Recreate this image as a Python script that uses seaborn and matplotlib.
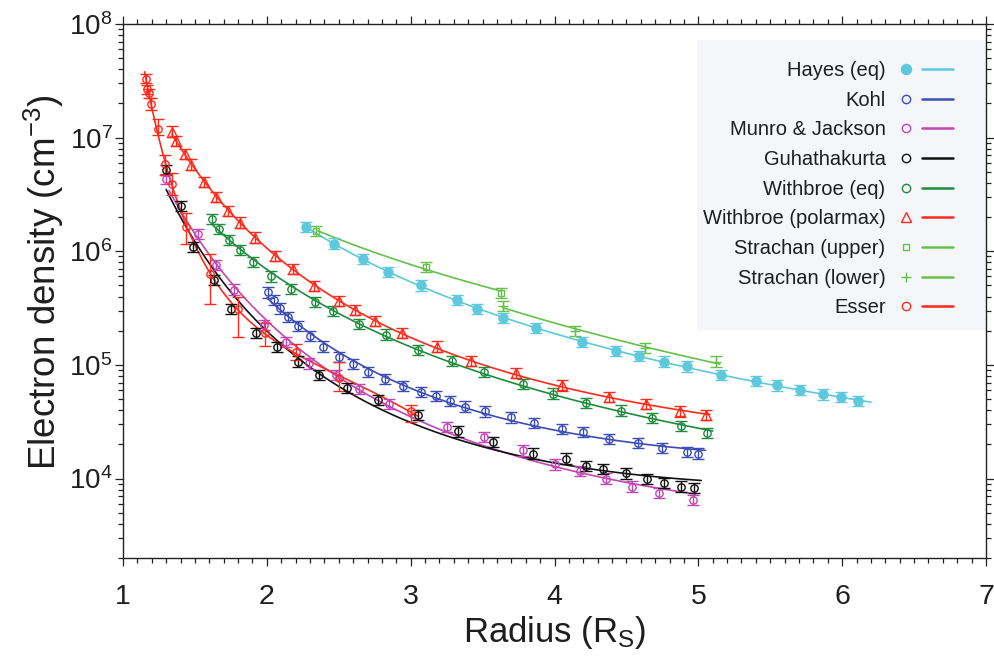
import numpy as np
import pandas as pd
import matplotlib
matplotlib.use("Agg")
import matplotlib.pyplot as plt
import seaborn as sns
from matplotlib.lines import Line2D
from matplotlib.patches import Rectangle
from matplotlib.legend_handler import HandlerTuple
from matplotlib.ticker import MultipleLocator, LogLocator, NullFormatter

# ---------------- data ----------------
hayes_r = [2.27, 2.47, 2.67, 2.84, 3.07, 3.32, 3.46, 3.64, 3.87, 4.19, 4.43, 4.59, 4.76, 4.92, 5.16, 5.40, 5.55, 5.71, 5.87, 5.99, 6.11]
hayes_n = [1.63e6, 1.17e6, 8.5e5, 6.6e5, 5.0e5, 3.7e5, 3.1e5, 2.6e5, 2.1e5, 1.6e5, 1.33e5, 1.19e5, 1.07e5, 9.7e4, 8.1e4, 7.2e4, 6.6e4, 6.0e4, 5.5e4, 5.2e4, 4.8e4]

kohl_r = [2.01, 2.05, 2.09, 2.145, 2.22, 2.30, 2.39, 2.50, 2.60, 2.70, 2.82, 2.95, 3.07, 3.175, 3.27, 3.38, 3.52, 3.70, 3.86, 4.05, 4.20, 4.38, 4.58, 4.75, 4.92, 5.00]
kohl_n = [4.34e5, 3.72e5, 3.14e5, 2.65e5, 2.21e5, 1.79e5, 1.45e5, 1.17e5, 1.02e5, 8.7e4, 7.5e4, 6.5e4, 5.8e4, 5.3e4, 4.8e4, 4.3e4, 3.9e4, 3.45e4, 3.1e4, 2.75e4, 2.57e4, 2.24e4, 2.06e4, 1.86e4, 1.71e4, 1.66e4]

munro_r = [1.30, 1.52, 1.645, 1.77, 1.98, 2.13, 2.29, 2.48, 2.64, 2.85, 3.25, 3.51, 3.78, 4.00, 4.18, 4.36, 4.54, 4.73, 4.96]
munro_n = [4.3e6, 1.41e6, 7.6e5, 4.6e5, 2.26e5, 1.58e5, 1.03e5, 8.2e4, 6.1e4, 4.5e4, 2.84e4, 2.32e4, 1.77e4, 1.33e4, 1.17e4, 1.0e4, 8.5e3, 7.5e3, 6.5e3]

guha_r = [1.30, 1.40, 1.49, 1.63, 1.75, 1.925, 2.07, 2.215, 2.365, 2.556, 2.77, 3.05, 3.33, 3.57, 3.85, 4.08, 4.22, 4.34, 4.50, 4.64, 4.76, 4.88, 4.97]
guha_n = [5.2e6, 2.5e6, 1.09e6, 5.6e5, 3.1e5, 1.91e5, 1.43e5, 1.07e5, 8.2e4, 6.3e4, 4.9e4, 3.64e4, 2.6e4, 2.1e4, 1.66e4, 1.5e4, 1.28e4, 1.21e4, 1.11e4, 9.9e3, 9.2e3, 8.5e3, 8.3e3]

wbeq_r = [1.62, 1.665, 1.735, 1.81, 1.905, 2.03, 2.17, 2.335, 2.46, 2.64, 2.83, 3.05, 3.29, 3.51, 3.78, 3.99, 4.22, 4.46, 4.68, 4.88, 5.06]
wbeq_n = [1.91e6, 1.58e6, 1.26e6, 1.03e6, 8.1e5, 6.0e5, 4.64e5, 3.6e5, 2.98e5, 2.29e5, 1.85e5, 1.36e5, 1.09e5, 8.7e4, 6.8e4, 5.6e4, 4.6e4, 3.97e4, 3.4e4, 2.9e4, 2.5e4]

wbpm_r = [1.34, 1.37, 1.43, 1.47, 1.56, 1.65, 1.73, 1.81, 1.92, 2.06, 2.18, 2.33, 2.50, 2.61, 2.75, 2.94, 3.18, 3.42, 3.73, 4.05, 4.38, 4.635, 4.87, 5.05]
wbpm_n = [1.13e7, 9.4e6, 7.2e6, 5.8e6, 4.1e6, 3.0e6, 2.26e6, 1.79e6, 1.32e6, 9.1e5, 6.95e5, 4.97e5, 3.66e5, 3.03e5, 2.45e5, 1.9e5, 1.45e5, 1.09e5, 8.5e4, 6.6e4, 5.2e4, 4.5e4, 3.9e4, 3.6e4]

strup_r = [2.34, 3.11, 3.63]
strup_n = [1.51e6, 7.3e5, 4.3e5]

strlo_r = [3.64, 4.14, 4.63, 5.12]
strlo_n = [3.3e5, 2.0e5, 1.41e5, 1.07e5]

esser_r = [1.16, 1.17, 1.18, 1.195, 1.24, 1.29, 1.34, 1.44, 1.605, 1.80, 1.99, 2.20, 2.50, 3.00]
esser_n = [3.3e7, 2.67e7, 2.46e7, 1.98e7, 1.2e7, 5.9e6, 3.9e6, 1.65e6, 6.3e5, 3.1e5, 1.9e5, 1.29e5, 7.7e4, 3.9e4]
esser_err_up = [0.04, 0.04, 0.04, 0.05, 0.085, 0.08, 0.10, 0.12, 0.175, 0.11, 0.094, 0.07, 0.14, 0.06]   # dex
esser_err_dn = [0.04, 0.04, 0.04, 0.05, 0.06, 0.10, 0.10, 0.155, 0.26, 0.25, 0.11, 0.07, 0.12, 0.09]   # dex

labels = ["Hayes (eq)", "Kohl", "Munro & Jackson", "Guhathakurta", "Withbroe (eq)",
          "Withbroe (polarmax)", "Strachan (upper)", "Strachan (lower)", "Esser"]
curve_ranges = [(2.27, 6.2), (2.0, 5.05), (1.32, 4.98), (1.30, 5.02), (1.62, 5.1),
                (1.34, 5.08), (2.35, 3.63), (3.64, 5.15), (1.15, 3.05)]
common_err = 0.045  # dex, typical error bar half-size

# ---------------- styling ----------------
sns.set_theme(style="white")
plt.rcParams["font.family"] = ["Liberation Sans", "DejaVu Sans"]
plt.rcParams["mathtext.fontset"] = "custom"
plt.rcParams["mathtext.rm"] = "Liberation Sans"
plt.rcParams["mathtext.it"] = "Liberation Sans:italic"
plt.rcParams["mathtext.bf"] = "Liberation Sans:bold"

C_HAYES = "#5ec8dc"
C_KOHL = "#3b4db5"
C_MUNRO = "#c245b4"
C_GUHA = "#111111"
C_WBEQ = "#1e8b3d"
C_RED = "#ff2a1c"
C_STR = "#66c04a"
TXT = "#1e1e1e"

series = [
    dict(r=hayes_r, n=hayes_n, c=C_HAYES, m="o", fill=True, ms=6.5, deg=2),
    dict(r=kohl_r, n=kohl_n, c=C_KOHL, m="o", fill=False, ms=5.3, deg=2),
    dict(r=munro_r, n=munro_n, c=C_MUNRO, m="o", fill=False, ms=5.3, deg=2),
    dict(r=guha_r, n=guha_n, c=C_GUHA, m="o", fill=False, ms=5.3, deg=2),
    dict(r=wbeq_r, n=wbeq_n, c=C_WBEQ, m="o", fill=False, ms=5.3, deg=2),
    dict(r=wbpm_r, n=wbpm_n, c=C_RED, m="^", fill=False, ms=6.5, deg=2),
    dict(r=strup_r, n=strup_n, c=C_STR, m="s", fill=False, ms=4.3, deg=1),
    dict(r=strlo_r, n=strlo_n, c=C_STR, m="+", fill=False, ms=7, deg=1),
    dict(r=esser_r, n=esser_n, c=C_RED, m="o", fill=False, ms=5.3, deg=3),
]

W, H = 994, 656
fig = plt.figure(figsize=(W / 100, H / 100), dpi=100)
ax = fig.add_axes([123 / W, 1 - 558 / H, (986 - 123) / W, (558 - 24) / H])
ax.set_yscale("log")

handles = []
for i, s in enumerate(series):
    r = np.asarray(s["r"], float)
    n = np.asarray(s["n"], float)
    if i == 8:
        up = np.asarray(esser_err_up)
        dn = np.asarray(esser_err_dn)
    else:
        up = np.full(len(r), common_err)
        dn = np.full(len(r), common_err)
    yerr = [n - n * 10 ** (-dn), n * 10 ** up - n]
    # fitted curve (log-log polynomial through the read points)
    coef = np.polyfit(np.log10(r), np.log10(n), s["deg"])
    lo, hi = curve_ranges[i]
    rg = np.linspace(lo, hi, 300)
    ng = 10 ** np.polyval(coef, np.log10(rg))
    sns.lineplot(x=rg, y=ng, color=s["c"], lw=1.2, ax=ax, sort=False, zorder=2)
    ax.errorbar(r, n, yerr=yerr, fmt="none", ecolor=s["c"], elinewidth=1.0,
                capsize=4, capthick=1.0, zorder=3)
    fc = s["c"] if s["fill"] else "none"
    ax.plot(r, n, linestyle="none", marker=s["m"], ms=s["ms"], mfc=fc, mec=s["c"],
            mew=1.0, zorder=4)
    mh = Line2D([], [], linestyle="none", marker=s["m"], ms=s["ms"] + 0.7, mfc=fc,
                mec=s["c"], mew=1.0)
    lh = Line2D([], [], color=s["c"], lw=1.8)
    handles.append((mh, lh))

ax.set_xlim(1, 7)
ax.set_ylim(2000, 1e8)
ax.xaxis.set_major_locator(MultipleLocator(1))
ax.xaxis.set_minor_locator(MultipleLocator(0.1))
ax.yaxis.set_major_locator(LogLocator(base=10, numticks=20))
ax.yaxis.set_minor_locator(LogLocator(base=10, subs=np.arange(2, 10), numticks=20))
ax.yaxis.set_minor_formatter(NullFormatter())

for sp in ax.spines.values():
    sp.set_color("#222222")
    sp.set_linewidth(1.0)
    sp.set_visible(True)

ax.tick_params(which="both", direction="out", top=True, right=True,
               bottom=True, left=True, color="#222222", width=0.9)
ax.tick_params(which="major", length=6)
ax.tick_params(which="minor", length=3.5)
ax.tick_params(axis="y", which="major", labelsize=20, pad=1.5, labelcolor=TXT)
ax.tick_params(axis="x", which="major", labelsize=20.5, pad=12.5, labelcolor=TXT)

ax.set_xlabel(r"Radius (R$_\mathrm{S}$)", fontsize=25, color=TXT)
ax.xaxis.set_label_coords(0.5, -0.104)
ax.set_ylabel(r"Electron density (cm$^{-3}$)", fontsize=26.5, color=TXT)
ax.yaxis.set_label_coords(-0.066, 0.517)

# legend background panel
ax.add_patch(Rectangle(((697 - 123) / 863, (558 - 330) / 534), 1 - (697 - 123) / 863,
                       (330 - 40) / 534, transform=ax.transAxes, facecolor="#f4f6fa",
                       edgecolor="none", zorder=1))

leg = ax.legend(handles=handles, labels=labels,
                handler_map={tuple: HandlerTuple(ndivide=None, pad=0.0)},
                markerfirst=False, loc="upper right",
                bbox_to_anchor=((953 - 123) / 863, (558 - 61) / 534),
                bbox_transform=ax.transAxes, borderaxespad=0, borderpad=0,
                fontsize=14.5, handlelength=3.08, handletextpad=0.27,
                labelspacing=0.53, frameon=False)
for t in leg.get_texts():
    t.set_color(TXT)
leg.set_zorder(5)

fig.savefig("out.png", dpi=100)
